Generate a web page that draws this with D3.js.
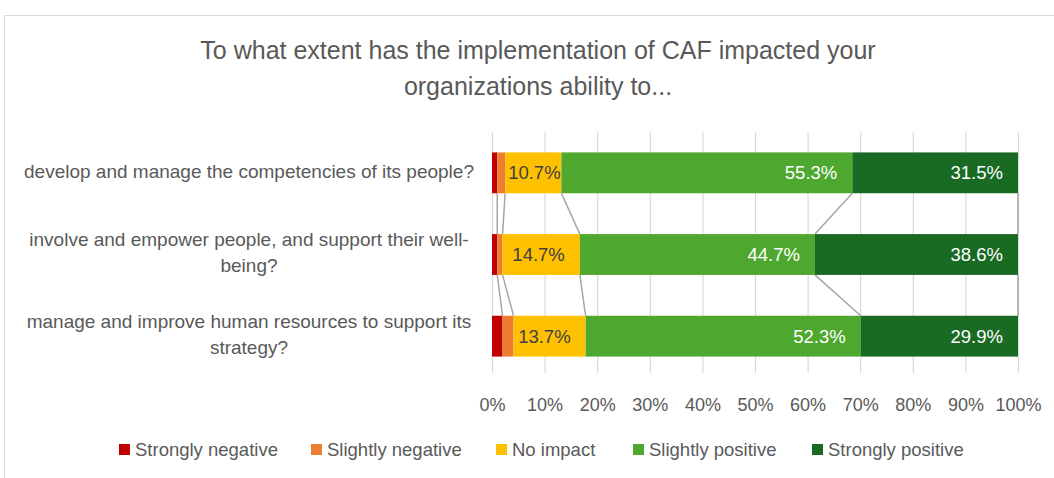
<!DOCTYPE html>
<meta charset="utf-8">
<title>CAF impact</title>
<style>
body {
  margin: 0px;
  background: #fff;
}
svg text {
  font-family: "Liberation Sans", Arial, sans-serif;
  fill: #595959;
}
</style>
<body>
<script src="https://cdn.jsdelivr.net/npm/d3@7"></script>
<script>

var width = 1054, height = 478;

// data
var categories = [
  "develop and manage the competencies of its people?",
  "involve and empower people, and support their well-being?",
  "manage and improve human resources to support its strategy?"
];
var categoryLines = [
  ["develop and manage the competencies of its people?"],
  ["involve and empower people, and support their well-", "being?"],
  ["manage and improve human resources to support its", "strategy?"]
];
var seriesNames = ["Strongly negative", "Slightly negative", "No impact", "Slightly positive", "Strongly positive"];
var stronglyNegative = [1.0, 1.0, 2.0];
var slightlyNegative = [1.5, 1.0, 2.1];
var noImpact = [10.7, 14.7, 13.7];
var slightlyPositive = [55.3, 44.7, 52.3];
var stronglyPositive = [31.5, 38.6, 29.9];
var tickValues = [0, 10, 20, 30, 40, 50, 60, 70, 80, 90, 100];
var colors = ["#c00000", "#ed7d31", "#ffc000", "#4ea72e", "#196b24"];
var labelShown = [false, false, true, true, true];

var seriesValues = [stronglyNegative, slightlyNegative, noImpact, slightlyPositive, stronglyPositive];

var rows = categories.map(function (c, i) {
  var r = { cat: c };
  seriesNames.forEach(function (s, j) { r[s] = seriesValues[j][i]; });
  return r;
});
var stacked = d3.stack().keys(seriesNames)(rows);

var svg = d3.select("body").append("svg")
    .attr("width", width)
    .attr("height", height);

// chart frame
svg.append("path")
    .attr("d", "M4.5," + height + "V15.5H" + width)
    .attr("fill", "none")
    .attr("stroke", "#d9d9d9");

// title
svg.append("text")
    .attr("text-anchor", "middle")
    .style("font-size", "25px")
    .selectAll("tspan")
    .data(["To what extent has the implementation of CAF impacted your", "organizations ability to..."])
  .enter().append("tspan")
    .attr("x", 538)
    .attr("y", function (d, i) { return 59 + i * 36; })
    .text(function (d) { return d; });

var x = d3.scaleLinear().domain([0, 100]).range([492, 1018]);
var y = d3.scaleBand().domain(categories).range([132, 377]).paddingInner(0.5).paddingOuter(0.25);

// gridlines
svg.append("g").selectAll("line")
    .data(tickValues)
  .enter().append("line")
    .attr("x1", function (d) { return x(d) + 0.5; })
    .attr("x2", function (d) { return x(d) + 0.5; })
    .attr("y1", 132)
    .attr("y2", 373)
    .attr("stroke", "#d9d9d9")
    .attr("stroke-width", 1.2);

// x axis labels
var xAxis = d3.axisBottom(x).tickValues(tickValues).tickSize(0).tickPadding(0).tickFormat(function (d) { return d + "%"; });
var gx = svg.append("g").attr("transform", "translate(0,398)").call(xAxis);
gx.select(".domain").remove();
gx.selectAll("text").style("font-size", "18px").attr("fill", "#595959").style("font-family", "Liberation Sans, Arial, sans-serif");

// series lines
var lineG = svg.append("g");
stacked.forEach(function (s) {
  for (var i = 0; i < categories.length - 1; i++) {
    lineG.append("line")
      .attr("x1", x(s[i][1]))
      .attr("y1", y(categories[i]) + y.bandwidth())
      .attr("x2", x(s[i + 1][1]))
      .attr("y2", y(categories[i + 1]))
      .attr("stroke", "#a6a6a6")
      .attr("stroke-width", 1.5);
  }
});

// bars
var layers = svg.append("g").selectAll("g")
    .data(stacked)
  .enter().append("g")
    .attr("fill", function (d, i) { return colors[i]; });

layers.selectAll("rect")
    .data(function (d) { return d; })
  .enter().append("rect")
    .attr("x", function (d) { return x(d[0]); })
    .attr("y", function (d) { return y(d.data.cat); })
    .attr("width", function (d) { return x(d[1]) - x(d[0]); })
    .attr("height", y.bandwidth());

// data labels, inside end
stacked.forEach(function (s, j) {
  if (!labelShown[j]) return;
  s.forEach(function (d) {
    var t = svg.append("text")
      .attr("y", y(d.data.cat) + y.bandwidth() / 2)
      .attr("dy", "0.35em")
      .attr("text-anchor", "start")
      .style("font-size", "18.5px")
      .style("fill", j == 2 ? "#404040" : "#ffffff")
      .text((d[1] - d[0]).toFixed(1) + "%");
    var w = t.node().getComputedTextLength();
    var endX = Math.max(x(d[1]) - 15, x(d[0]) + 3 + w);
    t.attr("x", endX - w);
  });
});

// category labels
svg.append("g").selectAll("text")
    .data(categories)
  .enter().append("text")
    .attr("text-anchor", "middle")
    .style("font-size", "19px")
    .each(function (c, i) {
      var lines = categoryLines[i];
      var cy = y(c) + y.bandwidth() / 2;
      var top = cy - (lines.length - 1) * 26 / 2;
      d3.select(this).selectAll("tspan")
        .data(lines)
      .enter().append("tspan")
        .attr("x", 249)
        .attr("y", function (d, k) { return top + k * 26; })
        .attr("dy", "0.26em")
        .text(function (d) { return d; });
    });

// legend
var legendX = [119, 311, 496, 633, 812];
var leg = svg.append("g").selectAll("g")
    .data(seriesNames)
  .enter().append("g")
    .attr("transform", function (d, i) { return "translate(" + legendX[i] + ",450)"; });
leg.append("rect")
    .attr("y", -6)
    .attr("width", 11)
    .attr("height", 11)
    .attr("fill", function (d, i) { return colors[i]; });
leg.append("text")
    .attr("x", 16)
    .attr("dy", "0.33em")
    .style("font-size", "18.5px")
    .text(function (d) { return d; });

</script>
